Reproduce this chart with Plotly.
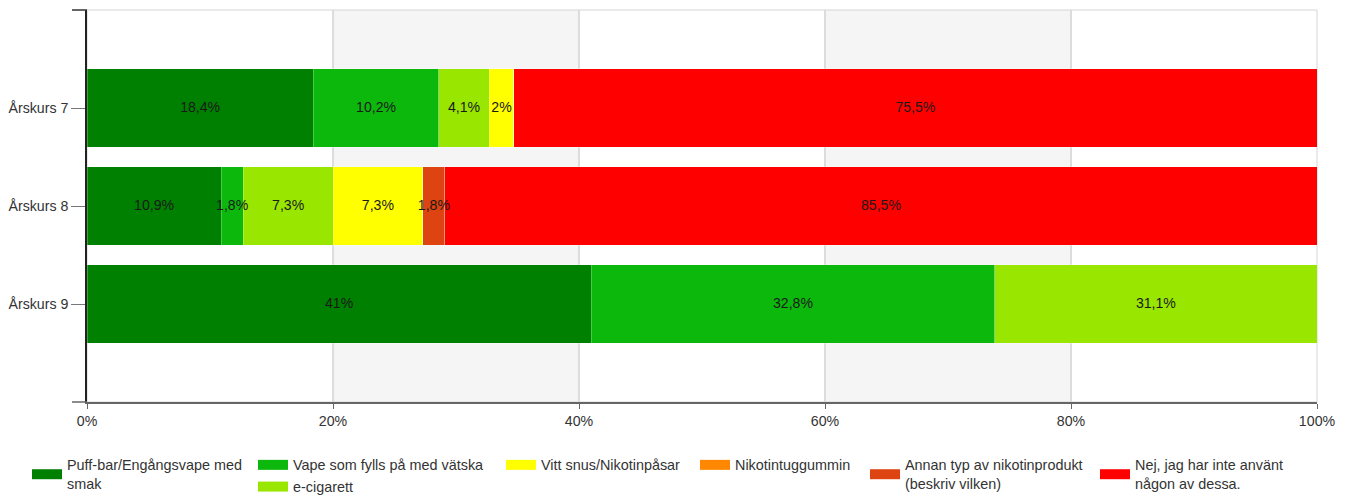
import plotly.graph_objects as go

# --- Data ---
GRADES = ["Årskurs 7", "Årskurs 8", "Årskurs 9"]

PUFF_BAR = [18.4, 10.9, 41.0]
VAPE_REFILL = [10.2, 1.8, 32.8]
E_CIGARETTE = [4.1, 7.3, 31.1]
WHITE_SNUS = [2.0, 7.3, 0.0]
NICOTINE_GUM = [0.0, 0.0, 0.0]
OTHER_PRODUCT = [0.0, 1.8, 0.0]
NONE_USED = [75.5, 85.5, 0.0]

X_TICKS = [0, 20, 40, 60, 80, 100]
X_TICK_LABELS = ["0%", "20%", "40%", "60%", "80%", "100%"]

# --- Style ---
FONT = "Liberation Sans, Arial, sans-serif"
TEXT_COLOR = "#333333"
WIDTH, HEIGHT = 1350, 495
PAGE_OFFSET = 8  # default body margin of the html page

# plot area as it should land on screen
PLOT_LEFT, PLOT_RIGHT, PLOT_TOP, PLOT_BOTTOM = 87, 1317, 10, 402
PLOT_W = PLOT_RIGHT - PLOT_LEFT
PLOT_H = PLOT_BOTTOM - PLOT_TOP

# (legend label, values, colour, legend id)
SERIES = [
    ("Puff-bar/Engångsvape med<br>smak", PUFF_BAR, "#008000", "legend"),
    ("Vape som fylls på med vätska", VAPE_REFILL, "#0db80d", "legend2"),
    ("e-cigarett", E_CIGARETTE, "#99e600", "legend2"),
    ("Vitt snus/Nikotinpåsar", WHITE_SNUS, "#ffff00", "legend3"),
    ("Nikotintuggummin", NICOTINE_GUM, "#ff8800", "legend4"),
    ("Annan typ av nikotinprodukt<br>(beskriv vilken)", OTHER_PRODUCT, "#dd4411", "legend5"),
    ("Nej, jag har inte använt<br>någon av dessa.", NONE_USED, "#ff0000", "legend6"),
]

# left edge of each legend swatch on screen
LEGEND_SWATCH_PX = {
    "legend": 33, "legend2": 259, "legend3": 507,
    "legend4": 701, "legend5": 871, "legend6": 1101,
}
LEGEND_TOP_PX = 449


def fmt_pct(v):
    return f"{v:g}".replace(".", ",") + "%"


fig = go.Figure()

for name, values, color, lid in SERIES:
    fig.add_trace(
        go.Bar(
            x=values,
            y=GRADES,
            orientation="h",
            marker=dict(color=color, line=dict(width=1, color="rgba(255,255,255,0.25)")),
            showlegend=False,
            hoverinfo="skip",
        )
    )
    # legend-only trace so the swatch is a wide rectangle
    fig.add_trace(
        go.Scatter(
            x=[None],
            y=[None],
            mode="lines",
            line=dict(color=color, width=11),
            name=name,
            legend=lid,
            showlegend=True,
        )
    )

# segment labels, centred on the visible part of each segment
label_x, label_y, label_text = [], [], []
for i, grade in enumerate(GRADES):
    left = 0.0
    for _, values, _, _ in SERIES:
        v = values[i]
        if v > 0 and left < X_TICKS[-1]:
            right = min(left + v, X_TICKS[-1])
            label_x.append((left + right) / 2)
            label_y.append(grade)
            label_text.append(fmt_pct(v))
        left += v

fig.add_trace(
    go.Scatter(
        x=label_x,
        y=label_y,
        mode="text",
        text=label_text,
        textfont=dict(size=14.1, color="#1a1a1a", family=FONT),
        showlegend=False,
        hoverinfo="skip",
        cliponaxis=False,
    )
)

# alternating background bands
shapes = []
for a, b in zip(X_TICKS[1::2], X_TICKS[2::2]):
    shapes.append(dict(
        type="rect", xref="x", yref="paper", x0=a, x1=b, y0=0, y1=1,
        fillcolor="#f5f5f5", line=dict(width=0), layer="below",
    ))
shapes.append(dict(
    type="rect", xref="paper", yref="paper", x0=0, x1=1, y0=0, y1=1,
    line=dict(color="#d4d4d4", width=1), layer="below",
))
tick_ext = -15 / PLOT_W
for yy, col in [(1, "#333333"), (0, "#666666")]:
    shapes.append(dict(
        type="line", xref="paper", yref="paper", x0=tick_ext, x1=0, y0=yy, y1=yy,
        line=dict(color=col, width=1.5),
    ))

legends = {}
for lid, px in LEGEND_SWATCH_PX.items():
    legends[lid] = dict(
        x=(px - 6 - PLOT_LEFT) / PLOT_W,
        y=(PLOT_BOTTOM - LEGEND_TOP_PX) / PLOT_H,
        xanchor="left",
        yanchor="top",
        orientation="v",
        bgcolor="rgba(0,0,0,0)",
        font=dict(size=14.4, color=TEXT_COLOR, family=FONT),
        tracegroupgap=0,
        itemwidth=30,
    )

fig.update_layout(
    width=WIDTH,
    height=HEIGHT,
    barmode="stack",
    bargap=0.2,
    paper_bgcolor="white",
    plot_bgcolor="white",
    font=dict(family=FONT, size=14, color=TEXT_COLOR),
    margin=dict(
        l=PLOT_LEFT - PAGE_OFFSET,
        r=WIDTH - (PLOT_RIGHT - PAGE_OFFSET),
        t=PLOT_TOP - PAGE_OFFSET,
        b=HEIGHT - (PLOT_BOTTOM - PAGE_OFFSET),
        autoexpand=False,
    ),
    xaxis=dict(
        range=[X_TICKS[0], X_TICKS[-1]],
        tickvals=X_TICKS,
        ticktext=X_TICK_LABELS,
        showgrid=True,
        gridcolor="#dcdcdc",
        gridwidth=1.5,
        zeroline=False,
        showline=True,
        linecolor="#666666",
        linewidth=1.5,
        ticks="outside",
        ticklen=5,
        tickcolor="#666666",
        tickfont=dict(size=14.2, color=TEXT_COLOR),
        fixedrange=True,
    ),
    yaxis=dict(
        type="category",
        categoryorder="array",
        categoryarray=GRADES,
        range=[len(GRADES), -1],
        showgrid=False,
        zeroline=False,
        showline=True,
        linecolor="#222222",
        linewidth=1.5,
        ticks="outside",
        ticklen=14,
        tickcolor="#777777",
        tickfont=dict(size=14.2, color=TEXT_COLOR),
        fixedrange=True,
    ),
    shapes=shapes,
    **legends,
)

fig.write_html("out.html")
